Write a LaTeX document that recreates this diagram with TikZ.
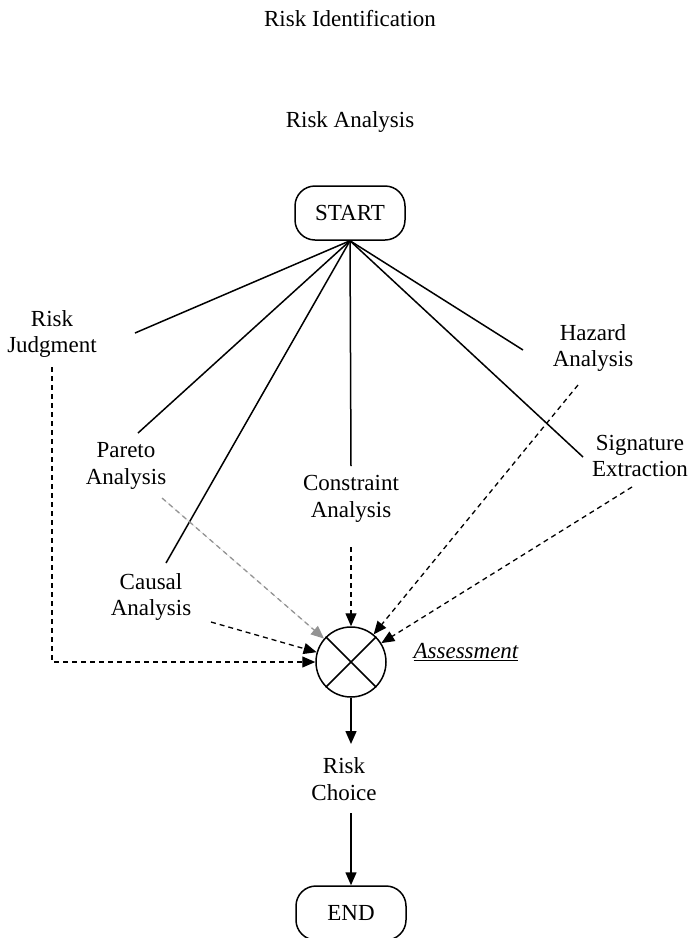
\documentclass[tikz,border=0pt]{standalone}
\usepackage{fontspec}
\setmainfont{Liberation Serif}
\usetikzlibrary{arrows.meta}
\begin{document}
\begin{tikzpicture}[x=1pt,y=-1pt,
  txt/.style={align=center,font=\fontsize{23}{26.5}\selectfont,inner sep=0pt},
  term/.style={draw,line width=1.5pt,rounded corners=20pt,minimum width=110pt,
    minimum height=54pt,font=\fontsize{23}{26.5}\selectfont},
  fan/.style={line width=1.5pt},
  feed/.style={line width=1.3pt,dash pattern=on 5pt off 4pt,
    -{Triangle[length=13pt,width=11pt]}},
  flow/.style={line width=1.5pt,-{Triangle[length=13pt,width=11pt]}}]
\useasboundingbox (0,0) rectangle (691,938);
\clip (0,0) rectangle (691,938);

% headings
\node[txt] (ident) at (350,19) {Risk Identification};
\node[txt] (anal) at (350,122) {Risk Analysis};

% start / end terminals
\node[term] (start) at (350,213) {START};
\node[term] (end) at (351,913) {END};

% technique labels
\node[txt] (judg) at (52,334) {Risk\\Judgment};
\node[txt] (pareto) at (126,466) {Pareto\\Analysis};
\node[txt] (causal) at (151,597) {Causal\\Analysis};
\node[txt] (constr) at (351,499) {Constraint\\Analysis};
\node[txt] (hazard) at (593,348) {Hazard\\Analysis};
\node[txt] (sig) at (640,456) {Signature\\Extraction};

% combining junction
\node[draw,circle,line width=1.5pt,minimum size=70pt,inner sep=0pt] (mix) at (351,662) {};
\draw[line width=1.5pt] (mix.north west) -- (mix.south east)
  (mix.north east) -- (mix.south west);
\node[txt,font=\fontsize{23}{26.5}\selectfont\itshape] (assess) at (466,652) {\underline{Assessment}};

\node[txt] (choice) at (344,779) {Risk\\Choice};

% ends of the fan lines
\coordinate (judgIn) at (135,333);
\coordinate (paretoIn) at (138,433);
\coordinate (causalIn) at (166,563);
\coordinate (constrIn) at (351,466);
\coordinate (hazardIn) at (523,350);
\coordinate (sigIn) at (583,457);

% fan from START to each technique
\foreach \t in {judgIn,paretoIn,causalIn,constrIn,hazardIn,sigIn}
  \draw[fan] (start.south) -- (\t);

% starts of the feeds into the junction
\coordinate (judgOut) at (52,367);
\coordinate (paretoOut) at (162,498);
\coordinate (causalOut) at (211,622);
\coordinate (constrOut) at (351,547);
\coordinate (hazardOut) at (578,385);
\coordinate (sigOut) at (632,487);

\draw[feed] (judgOut) |- (mix.west);
\draw[feed,draw=gray!85,fill=gray!85] (paretoOut) -- (mix);
\draw[feed] (causalOut) -- (mix);
\draw[feed] (constrOut) -- (mix.north);
\draw[feed] (hazardOut) -- (mix);
\draw[feed] (sigOut) -- (mix);

% output flow
\coordinate (choiceIn) at (351,744);
\coordinate (choiceOut) at (351,813);
\draw[flow] (mix.south) -- (choiceIn);
\draw[flow] (choiceOut) -- (end.north);
\end{tikzpicture}
\end{document}
